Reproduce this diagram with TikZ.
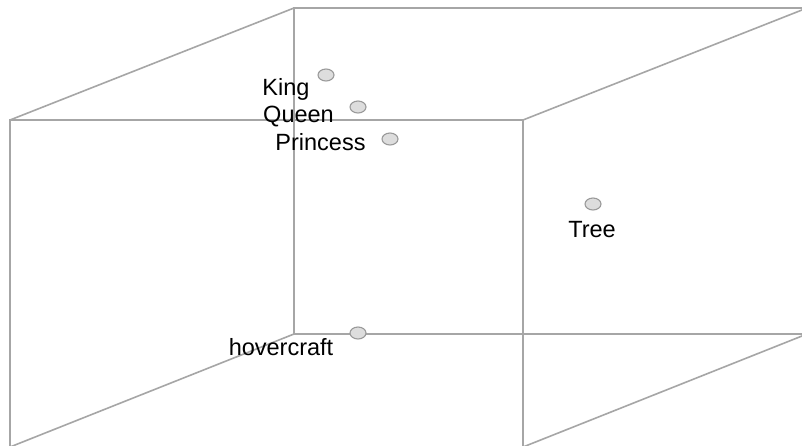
\documentclass[tikz,border=0pt]{standalone}
\usepackage{fontspec}
\setmainfont{Liberation Sans}
\definecolor{edgegray}{HTML}{A6A6A6}
\definecolor{dotfill}{HTML}{DDDDDD}
\definecolor{dotline}{HTML}{9A9A9A}
\tikzset{
  cubeline/.style={draw=edgegray, line width=1.6pt},
  dot/.style={ellipse, draw=dotline, fill=dotfill, line width=1.1pt, minimum width=16pt, minimum height=12pt, inner sep=0pt},
  lbl/.style={anchor=base, inner sep=0pt, font=\fontsize{23.5}{23.5}\selectfont, text=black}
}
\usetikzlibrary{shapes.geometric}
\begin{document}
\begin{tikzpicture}[x=1pt, y=-1pt]
\useasboundingbox (0,0) rectangle (802,445);
\clip (0,0) rectangle (802,445);
\fill[white] (0,0) rectangle (802,445);
% front face corners
\coordinate (f1) at (10,120);
\coordinate (f2) at (523,120);
\coordinate (f3) at (523,447);
\coordinate (f4) at (10,447);
% back face corners
\coordinate (b1) at (294,8);
\coordinate (b2) at (807,8);
\coordinate (b3) at (807,334);
\coordinate (b4) at (294,334);
\draw[cubeline] (b1) -- (b2) -- (b3) -- (b4) -- cycle;
\draw[cubeline] (f1) -- (f2) -- (f3) -- (f4) -- cycle;
\draw[cubeline] (f1) -- (b1);
\draw[cubeline] (f2) -- (b2);
\draw[cubeline] (f3) -- (b3);
\draw[cubeline] (f4) -- (b4);
% data points
\node[dot] (king) at (326,75) {};
\node[dot] (queen) at (358,107) {};
\node[dot] (princess) at (390,139) {};
\node[dot] (tree) at (593,204) {};
\node[dot] (hover) at (358,333) {};
% labels
\node[lbl] (kingl) at (286,95) {King};
\node[lbl] (queenl) at (298.5,122) {Queen};
\node[lbl] (princessl) at (320.5,150) {Princess};
\node[lbl] (treel) at (592,237) {Tree};
\node[lbl] (hoverl) at (281,355) {hovercraft};
\end{tikzpicture}
\end{document}
